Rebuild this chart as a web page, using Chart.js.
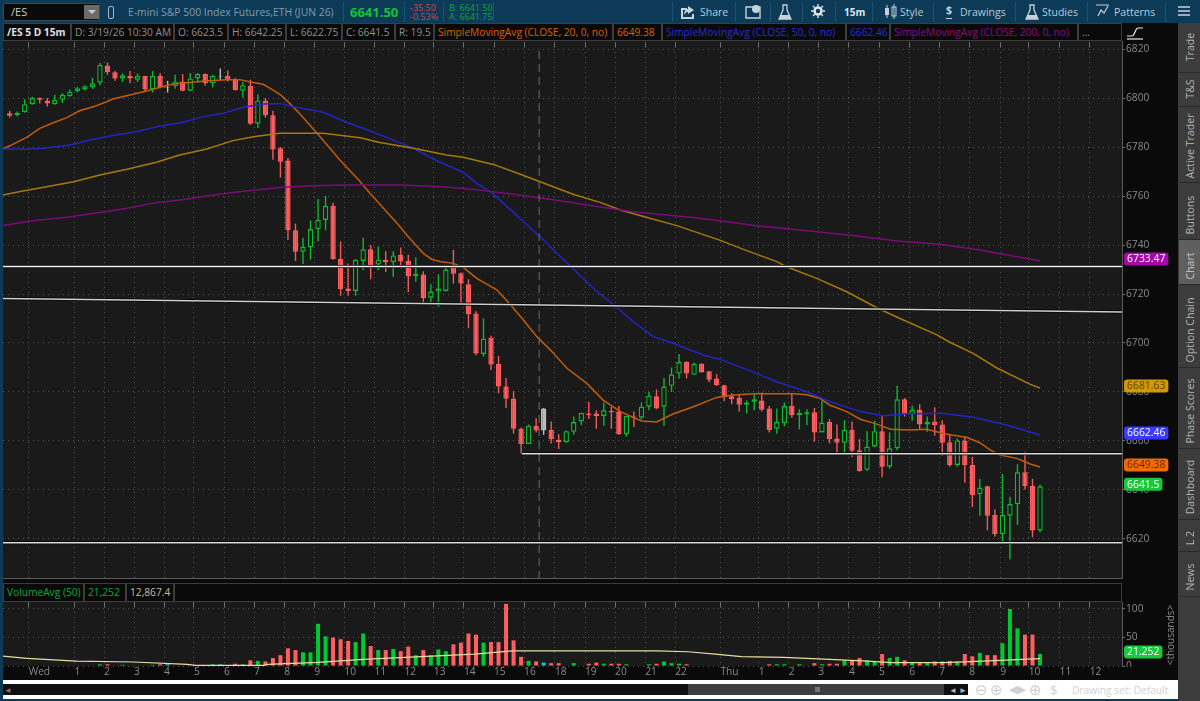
<!DOCTYPE html>
<html>
<head>
<meta charset="utf-8">
<title>/ES 5 D 15m</title>
<script src="https://cdn.jsdelivr.net/npm/chart.js@4"></script>
<style>
    html, body { margin: 0; padding: 0; }
    body { width: 1200px; height: 701px; background: #0d3a57; overflow: hidden; position: relative;
           font-family: "Open Sans", sans-serif; font-size: 10.2px; }
    .box { position: absolute; box-sizing: border-box; white-space: nowrap; }
    canvas { position: absolute; }

    /* --- Header --- */
    .tool { position: absolute; top: 3px; height: 18px; line-height: 18px; color: #b9cad6; font-size: 10.5px; white-space: nowrap; }
    .tool svg { position: absolute; top: 1px; left: 0; }
    .sep { position: absolute; top: 2px; width: 1px; height: 20px; background: #1d5272; }

    /* --- Info cells --- */
    .cell { position: absolute; height: 18px; line-height: 17px; background: #0a0a0a; border: 1px solid #3d3d3d;
            box-sizing: border-box; padding-left: 3px; color: #8e8e8e; white-space: nowrap; overflow: hidden; }

    /* --- Side tabs --- */
    .tab { position: absolute; left: 1179px; width: 21px; background: #3c3c3c; border-bottom: 1px solid #2a2a2a; box-sizing: border-box; }
    .tabtext { position: absolute; left: 1189.5px; width: 0; height: 0; }
    .tabtext span { position: absolute; transform: translate(-50%, -50%) rotate(-90deg); color: #b4b4b4; font-size: 10.6px; white-space: nowrap; }
</style>
</head>
<body>

<!-- header row -->
<div class="box" style="left:3px;top:3px;width:97px;height:18px;background:#0a0a0a;border:1px solid #3a4a55;border-radius:2px;color:#c9c9c9;font-size:11px;line-height:16px;padding-left:7px;">/ES</div>
<div class="box" style="left:84px;top:5px;width:15px;height:14px;background:#6b6b6b;"></div>
<div class="box" style="left:88px;top:10px;width:0;height:0;border-left:4px solid transparent;border-right:4px solid transparent;border-top:4px solid #ccc;"></div>
<div class="box" style="left:108px;top:6px;width:6px;height:13px;border:1px solid #a9b9c4;border-radius:2px;"></div>
<div class="box" style="left:128px;top:3px;line-height:18px;font-size:10.4px;color:#7f9cb1;">E-mini S&amp;P 500 Index Futures,ETH (JUN 26)</div>
<div class="box" style="left:350px;top:2px;line-height:20px;font-size:13px;font-weight:700;color:#10c43a;">6641.50</div>
<div class="box" style="left:410px;top:3px;line-height:9px;font-size:9px;color:#d8404a;">-35.50<br>-0.53%</div>
<div class="box" style="left:449px;top:3px;line-height:9px;font-size:9px;color:#12a53a;">B: 6641.50<br>A: 6641.75</div>
<div class="sep" style="left:343px;"></div>
<div class="sep" style="left:404px;"></div>
<div class="sep" style="left:443px;"></div>
<div class="sep" style="left:493px;"></div>
<div class="sep" style="left:672px;"></div>
<div class="sep" style="left:735px;"></div>
<div class="sep" style="left:770px;"></div>
<div class="sep" style="left:802px;"></div>
<div class="sep" style="left:835px;"></div>
<div class="sep" style="left:872px;"></div>
<div class="sep" style="left:933px;"></div>
<div class="sep" style="left:1015px;"></div>
<div class="sep" style="left:1087px;"></div>
<div class="sep" style="left:1165px;"></div>

<div class="tool" style="left:680px;width:48px;padding-left:20px;box-sizing:border-box;"><svg width="16" height="15"><path d="M1 4h6v2H3v7h9v-3h2v5H1zM8 2l6 4-6 4V8C6 8 5 9 4 11c0-4 2-6 4-6z" fill="#c4d2dc"/></svg>Share</div>
<div class="tool" style="left:745px;width:16px;"><svg width="16" height="15"><path d="M1 3h14v11H1z" fill="none" stroke="#c4d2dc" stroke-width="1.4"/><circle cx="11" cy="5" r="4" fill="#c4d2dc"/></svg></div>
<div class="tool" style="left:778px;width:14px;"><svg width="14" height="17"><path d="M5 1h4v5l4 9H1l4-9z" fill="none" stroke="#c4d2dc" stroke-width="1.3"/><path d="M3 11h8l2 4H1z" fill="#c4d2dc"/></svg></div>
<div class="tool" style="left:811px;width:14px;"><svg width="14" height="14"><circle cx="7" cy="7" r="3.5" fill="none" stroke="#dfe7ec" stroke-width="2.6"/><path d="M7 0v14M0 7h14M2 2l10 10M12 2L2 12" stroke="#dfe7ec" stroke-width="1.4" stroke-dasharray="2.2 9.6"/></svg></div>
<div class="tool" style="left:844px;font-weight:700;font-size:10px;color:#dfe7ec;">15m</div>
<div class="tool" style="left:884px;width:40px;padding-left:16px;box-sizing:border-box;"><svg width="14" height="15"><rect x="1" y="4" width="4" height="7" fill="#c4d2dc"/><rect x="8" y="3" width="4" height="9" fill="none" stroke="#c4d2dc"/><path d="M3 1v13M10 0v15" stroke="#c4d2dc"/></svg>Style</div>
<div class="tool" style="left:945px;width:62px;padding-left:15px;box-sizing:border-box;"><span style="position:absolute;left:1px;top:0;font-weight:700;color:#c4d2dc;border-bottom:1px solid #c4d2dc;line-height:15px;">$</span>Drawings</div>
<div class="tool" style="left:1025px;width:54px;padding-left:17px;box-sizing:border-box;"><svg width="14" height="17"><path d="M5 1h4v5l4 9H1l4-9z" fill="none" stroke="#c4d2dc" stroke-width="1.3"/><path d="M3 11h8l2 4H1z" fill="#c4d2dc"/></svg>Studies</div>
<div class="tool" style="left:1096px;width:62px;padding-left:18px;box-sizing:border-box;"><svg width="14" height="15"><path d="M0 1h13M2 12l3-6 3 3 4-7" fill="none" stroke="#c4d2dc" stroke-width="1.2"/></svg>Patterns</div>
<div class="tool" style="left:1178px;width:12px;"><svg width="12" height="14"><path d="M0 3h12M0 7h12M0 11h12" stroke="#c4d2dc" stroke-width="1.5"/></svg></div>

<!-- info row -->
<div class="box" style="left:3px;top:23px;width:1175px;height:18px;background:#0a0a0a;"></div>
<div class="cell" style="left:3px;top:23px;width:68px;color:#e0e0e0;font-weight:700;">/ES 5 D 15m</div>
<div class="cell" style="left:71px;top:23px;width:103px;">D: 3/19/26 10:30 AM</div>
<div class="cell" style="left:174px;top:23px;width:54px;">O: 6623.5</div>
<div class="cell" style="left:228px;top:23px;width:58px;">H: 6642.25</div>
<div class="cell" style="left:286px;top:23px;width:56px;">L: 6622.75</div>
<div class="cell" style="left:342px;top:23px;width:53px;">C: 6641.5</div>
<div class="cell" style="left:395px;top:23px;width:39px;">R: 19.5</div>
<div class="cell" style="left:434px;top:23px;width:179px;color:#d96200;">SimpleMovingAvg (CLOSE, 20, 0, no)</div>
<div class="cell" style="left:613px;top:23px;width:49px;color:#d96200;">6649.38</div>
<div class="cell" style="left:662px;top:23px;width:184px;color:#2a2ad8;">SimpleMovingAvg (CLOSE, 50, 0, no)</div>
<div class="cell" style="left:846px;top:23px;width:44px;color:#2a2ad8;">6662.46</div>
<div class="cell" style="left:890px;top:23px;width:188px;color:#880a88;">SimpleMovingAvg (CLOSE, 200, 0, no)</div>
<div class="cell" style="left:1078px;top:23px;width:44px;">...</div>
<svg class="box" style="left:1126px;top:25px;" width="20" height="15"><path d="M1 11h5c3 0 3-8 6-8h5" fill="none" stroke="#e8e8e8" stroke-width="1.2"/><path d="M1 14h16" stroke="#e8e8e8" stroke-width="1.2"/></svg>

<!-- panes -->
<div class="box" style="left:3px;top:41px;width:1175px;height:640px;background:#0a0a0a;"></div>
<div class="box" style="left:3px;top:41px;width:1119px;height:538px;background:#1a1a1a;"></div>
<div class="box" style="left:1122px;top:41px;width:1px;height:538px;background:#5a5a5a;"></div>
<div class="box" style="left:3px;top:578px;width:1120px;height:1px;background:#5a5a5a;"></div>

<canvas id="priceChart" width="1175" height="538" style="left:3px;top:41px;width:1175px;height:538px;"></canvas>

<div class="cell" style="left:3px;top:583px;width:81px;height:19px;color:#12a53a;">VolumeAvg (50)</div>
<div class="cell" style="left:84px;top:583px;width:42px;height:19px;color:#12a53a;">21,252</div>
<div class="cell" style="left:126px;top:583px;width:48px;height:19px;color:#cdbf90;">12,867.4</div>
<div class="box" style="left:174px;top:583px;width:948px;height:19px;border:1px solid #3d3d3d;background:#0a0a0a;"></div>

<div class="box" style="left:3px;top:602px;width:1119px;height:64px;background:#1a1a1a;"></div>
<div class="box" style="left:1122px;top:602px;width:1px;height:64px;background:#5a5a5a;"></div>
<canvas id="volumeChart" width="1175" height="78" style="left:3px;top:602px;width:1175px;height:78px;"></canvas>
<div class="box" style="left:1124px;top:667px;width:40px;height:13px;background:#0a0a0a;"></div>
<div class="box" style="left:1130px;top:628px;width:80px;height:14px;line-height:14px;text-align:center;color:#8e8e8e;transform:rotate(-90deg);font-size:10px;">&lt;thousands&gt;</div>

<!-- bottom strip -->
<div class="box" style="left:3px;top:680px;width:1175px;height:19px;background:#ffffff;"></div>
<div class="box" style="left:3px;top:684px;width:965px;height:11px;background:#101010;"></div>
<div class="box" style="left:688px;top:684px;width:256px;height:11px;background:#3e3e3e;"></div>
<div class="box" style="left:815px;top:687px;width:5px;height:5px;background:#777;"></div>
<div class="box" style="left:4px;top:685px;color:#777;font-size:8px;line-height:9px;">&#9668;</div>
<div class="box" style="left:949px;top:685px;color:#bbb;font-size:8px;line-height:9px;">&#9668;</div>
<div class="box" style="left:959px;top:685px;color:#bbb;font-size:8px;line-height:9px;">&#9658;</div>
<div class="box" style="left:975px;top:680px;line-height:20px;color:#cfcfcf;font-family:'DejaVu Sans';font-size:15px;">&#8854;</div>
<div class="box" style="left:990px;top:680px;line-height:20px;color:#cfcfcf;font-family:'DejaVu Sans';font-size:15px;">&#8853;</div>
<div class="box" style="left:1009px;top:680px;line-height:20px;color:#cfcfcf;font-family:'DejaVu Sans';font-size:11px;">&#9664;&#9654;</div>
<div class="box" style="left:1029px;top:680px;line-height:20px;color:#cfcfcf;font-family:'DejaVu Sans';font-size:15px;">&#8853;</div>
<div class="box" style="left:1050px;top:680px;line-height:20px;color:#cfcfcf;font-size:13px;">$</div>
<div class="box" style="left:1072px;top:680px;line-height:20px;color:#d2d2d2;font-size:10.2px;">Drawing set: Default</div>

<!-- side tabs -->
<div class="box" style="left:1178px;top:23px;width:22px;height:678px;background:#3c3c3c;"></div>
<div class="tab" style="top:23px;height:50px;"></div>
<div class="tab" style="top:73px;height:34px;"></div>
<div class="tab" style="top:107px;height:76px;"></div>
<div class="tab" style="top:183px;height:57px;"></div>
<div class="tab" style="top:240px;height:45px;background:#5e5e5e;"></div>
<div class="tab" style="top:285px;height:83px;"></div>
<div class="tab" style="top:368px;height:81px;"></div>
<div class="tab" style="top:449px;height:71px;"></div>
<div class="tab" style="top:520px;height:32px;"></div>
<div class="tab" style="top:552px;height:45px;"></div>
<div class="tabtext" style="top:47px;"><span>Trade</span></div>
<div class="tabtext" style="top:89px;"><span>T&amp;S</span></div>
<div class="tabtext" style="top:146px;"><span>Active Trader</span></div>
<div class="tabtext" style="top:215px;"><span>Buttons</span></div>
<div class="tabtext" style="top:266px;"><span style="color:#c8c8c8;">Chart</span></div>
<div class="tabtext" style="top:330px;"><span>Option Chain</span></div>
<div class="tabtext" style="top:411px;"><span>Phase Scores</span></div>
<div class="tabtext" style="top:487px;"><span>Dashboard</span></div>
<div class="tabtext" style="top:538px;"><span>L 2</span></div>
<div class="tabtext" style="top:577px;"><span>News</span></div>

<script>
// --- Candles (bar 0 is the first on the left) ---
const opens = [
    6793.75, 6793, 6794.25, 6797.5, 6800, 6799, 6797.5, 6799.25, 6800.75, 6802.75,
    6803.5, 6804.5, 6806.25, 6813.25, 6810.5, 6808, 6809, 6807.5, 6809, 6803.5,
    6809, 6804.5, 6804.75, 6806.75, 6803, 6808, 6809.75, 6806, 6809, 6809,
    6807.75, 6803, 6805, 6789.5, 6799, 6793, 6779.5, 6774.5, 6746, 6737.25,
    6739, 6746.5, 6750.25, 6756, 6734.25, 6722.25, 6721.25, 6733.5, 6738.25, 6732,
    6734, 6733, 6736, 6733.5, 6727.25, 6728, 6718.5, 6721, 6721.25, 6731,
    6728.5, 6724, 6712, 6695.5, 6702, 6691.5, 6682.25, 6677.25, 6665, 6658.75,
    6666.25, 6673.25, 6664.5, 6660.5, 6659.5, 6663.75, 6668, 6671.25, 6671.25, 6670.25,
    6672.25, 6672, 6662.75, 6670, 6669.5, 6674, 6678.25, 6674, 6682.5, 6687.5,
    6692.25, 6687, 6691.5, 6688.5, 6685.5, 6682.75, 6678.25, 6677.5, 6674.75, 6676,
    6676.5, 6673.25, 6665, 6667.25, 6674.25, 6670.5, 6671, 6671.75, 6663.5, 6667.75,
    6661, 6659.25, 6664.5, 6656.25, 6648.25, 6657.75, 6664, 6649.5, 6657, 6677,
    6671, 6672.75, 6666.75, 6668, 6666.75, 6659.5, 6650.25, 6660.25, 6650.25, 6638.25,
    6641.5, 6629.75, 6622, 6629.5, 6634.25, 6647.25, 6641.75, 6623.5
];
const highs = [
    6794.75, 6794.5, 6799.5, 6800.5, 6800.25, 6800, 6801.25, 6802, 6803.5, 6804.5,
    6805.25, 6808.25, 6814.25, 6814.5, 6811, 6810, 6811, 6810, 6809, 6811,
    6810.25, 6807, 6809.5, 6809.75, 6810.25, 6810.25, 6810, 6809.5, 6812, 6811.25,
    6808.25, 6806.5, 6807.5, 6801.5, 6800, 6794.75, 6780, 6775.5, 6748.75, 6743,
    6750, 6758.75, 6760, 6757.25, 6741.5, 6732.5, 6734.25, 6743, 6740, 6739.25,
    6737.5, 6737.5, 6739, 6736, 6735, 6729.25, 6724, 6728, 6731.5, 6738,
    6728.75, 6726, 6713, 6710, 6703, 6694.75, 6685.75, 6680.5, 6665.5, 6666.75,
    6669.25, 6673.5, 6668, 6662.75, 6664.25, 6670, 6671.5, 6676, 6672.5, 6675.75,
    6674, 6674.25, 6670.25, 6672, 6675.75, 6680, 6681, 6685.75, 6690, 6695.5,
    6692.5, 6692, 6691.75, 6688.5, 6687.25, 6683, 6679.5, 6679, 6676.5, 6679,
    6679.75, 6674.25, 6673.25, 6675.75, 6679.25, 6673, 6673, 6673.5, 6676.5, 6669,
    6666.75, 6668.5, 6668, 6660.75, 6664, 6668.25, 6670.25, 6663.5, 6682.5, 6677.5,
    6674.5, 6675, 6670, 6673.75, 6668.5, 6662.5, 6661, 6662, 6653.5, 6644.5,
    6641.75, 6632, 6646.5, 6637.25, 6650.5, 6655.75, 6644.5, 6642.25
];
const lows = [
    6792, 6792.5, 6794, 6797.25, 6797.75, 6796.5, 6797.25, 6798, 6800.5, 6802.25,
    6803, 6803.75, 6805.25, 6809.5, 6807, 6806.5, 6806, 6806.5, 6802.75, 6802.25,
    6804, 6802.25, 6803.75, 6802.75, 6802.75, 6806.25, 6805, 6804.25, 6807.5, 6806.75,
    6803, 6800.25, 6789, 6787.75, 6792, 6774.75, 6767.5, 6742, 6733.5, 6732.25,
    6734, 6741.5, 6746, 6734, 6719.25, 6719.25, 6719.25, 6729.75, 6726, 6729.75,
    6729, 6727, 6730.5, 6720.75, 6725, 6716.5, 6716.25, 6714.75, 6721, 6724.25,
    6716, 6706, 6695, 6694.5, 6689, 6679.5, 6673.5, 6663, 6655, 6658.75,
    6663.5, 6662.5, 6659, 6656.75, 6659.25, 6662.5, 6666.5, 6669, 6665, 6666.25,
    6665, 6662.5, 6661.75, 6665.75, 6668.75, 6672.5, 6673, 6666.25, 6680, 6685.5,
    6685.5, 6687, 6688, 6684, 6682.5, 6676.25, 6675, 6672, 6671.25, 6672.5,
    6672, 6663.5, 6663, 6666, 6669.5, 6664.75, 6666.5, 6659.75, 6663.5, 6659,
    6654.75, 6655, 6653.5, 6647.5, 6647.75, 6657.5, 6645.25, 6648.75, 6656.25, 6670,
    6668.25, 6664.5, 6663.75, 6662.25, 6654, 6649.5, 6649.5, 6643, 6633, 6629.5,
    6623.5, 6621, 6618.5, 6611.75, 6625.75, 6640.25, 6620.75, 6622.75
];
const closes = [
    6792.75, 6794, 6797.5, 6800, 6799.25, 6797.75, 6799.25, 6801.25, 6802.5, 6804,
    6804.75, 6806, 6813.5, 6810.5, 6808, 6809.25, 6808, 6809, 6803.5, 6809,
    6804.5, 6804.25, 6806.75, 6803, 6808, 6809.75, 6806, 6809, 6808.75, 6807.5,
    6803.25, 6805.25, 6789.5, 6799, 6793, 6779, 6774, 6746, 6737.25, 6739.25,
    6746.5, 6750.25, 6756, 6734.25, 6722, 6721.25, 6734, 6738.25, 6731.5, 6734,
    6733, 6735.75, 6733.25, 6727.25, 6728.25, 6718.25, 6721, 6722.25, 6730, 6728.25,
    6724.25, 6711.75, 6695.75, 6701.75, 6691.25, 6682.25, 6677.25, 6665, 6658.75, 6666.25,
    6664.25, 6664.25, 6660.75, 6659.5, 6664, 6667.75, 6671.5, 6670.5, 6670.25, 6672.5,
    6671.75, 6662.75, 6670.25, 6669.5, 6674, 6678.5, 6673.25, 6682.25, 6687.25, 6692.25,
    6687.5, 6691.5, 6688, 6685, 6682.75, 6678, 6677, 6674.75, 6675.75, 6677,
    6672.75, 6664.5, 6667.75, 6674.25, 6670.5, 6671.5, 6671.75, 6663.5, 6667.5, 6660.75,
    6659.25, 6664.5, 6656, 6647.75, 6657.75, 6664, 6649.5, 6657, 6677, 6671,
    6672.75, 6666.75, 6667.75, 6666.5, 6659.25, 6650.25, 6660.25, 6650.25, 6638, 6641,
    6629.5, 6622, 6629.75, 6634.25, 6647.25, 6641.5, 6623.5, 6641.5
];
const grayBars = [21, 28, 71];

// Volume in thousands, one per bar (0 where no bar shows above the pane floor)
const volumes = [
    0, 0, 0, 0, 0, 0, 0, 0, 0, 0, 0, 0, 3, 3, 0, 2, 0, 0, 0, 2,
    3, 3, 0, 0, 0, 0, 0, 3, 3, 0, 4, 3, 10, 9, 8, 14, 19, 31, 28, 24,
    24, 74, 52, 50, 47, 44, 42, 57, 35, 28, 28, 30, 26, 34, 19, 28, 19, 29, 26, 38,
    41, 57, 55, 41, 42, 42, 109, 45, 16, 9, 8, 6, 5, 5, 0, 5, 0, 4, 6, 4,
    4, 4, 3, 0, 0, 3, 4, 8, 5, 4, 3, 0, 0, 0, 0, 0, 0, 0, 0, 0,
    0, 3, 3, 3, 0, 3, 0, 5, 3, 4, 4, 10, 10, 14, 10, 7, 21, 14, 16, 10,
    7, 5, 5, 8, 8, 9, 8, 21, 17, 23, 19, 19, 40, 100, 66, 55, 55, 21.25
];

// --- Averages: bar position and value of each point ---
const sma20Bars = [-0.9, 0.4, 2.3, 4, 5.8, 7.6, 9.3, 11.1, 12.9, 13.7, 16.4, 18.3, 20, 21.7, 23.6, 25.3, 27, 28.9, 30.6, 32, 33.7, 35, 36, 37.3, 38.6, 41.3, 43.9, 46.4, 47.9, 49.7, 51.5, 53.2, 55, 56.1, 57.2, 59, 60.3, 62.1, 64.8, 66.5, 68.3, 70.1, 71.9, 74.1, 76.7, 78.9, 81.2, 84, 86, 88.2, 90.9, 94, 96.2, 98.9, 101.5, 104.2, 106, 107.8, 109, 111.3, 113.1, 115.3, 117.1, 119.7, 121.9, 124.2, 125.5, 127.3, 129, 130.4, 131.7, 133.9, 135.7, 137];
const sma20Vals = [6779.2, 6781.1, 6784, 6787.6, 6789.9, 6792, 6794.8, 6796.4, 6798.5, 6799.6, 6801.5, 6803, 6804.4, 6805.7, 6806.2, 6806.7, 6807.1, 6807.5, 6807.5, 6806.5, 6805.6, 6803.3, 6801.3, 6797.6, 6793.5, 6784.1, 6774.7, 6766.5, 6761.1, 6755, 6748.9, 6742.7, 6736.6, 6734.2, 6733.3, 6732.5, 6730.9, 6726.4, 6721.6, 6715.9, 6709.4, 6702.6, 6697.1, 6689.7, 6683.6, 6676.7, 6672, 6668.2, 6667.8, 6671, 6674, 6677.8, 6678.8, 6679.3, 6679.3, 6679.3, 6678.9, 6677.3, 6674.7, 6672, 6668.9, 6666.9, 6664.8, 6664.5, 6664.8, 6663.1, 6662.3, 6661.4, 6659.3, 6656.3, 6654.3, 6652.9, 6650.6, 6649.38];

const sma50Bars = [-0.9, 2.3, 4.5, 8, 10.7, 13.3, 16.9, 19.5, 23.1, 25.7, 28.4, 31.1, 33.7, 35.9, 37.7, 41.7, 44.8, 48.4, 51.5, 53.7, 56.8, 60.3, 62.1, 63.9, 67, 70.5, 74.5, 78.1, 80.5, 82.9, 85.6, 88.2, 92.2, 94.5, 99.3, 102, 106, 109.1, 113.1, 116.2, 118.8, 124.1, 128.1, 132.6, 137];
const sma50Vals = [6779.2, 6779.1, 6779.5, 6780.8, 6782.9, 6784.5, 6786.2, 6788.3, 6790.1, 6792.4, 6793.8, 6796.2, 6797.6, 6797.8, 6796.4, 6794.2, 6790.1, 6786, 6782.2, 6779.5, 6774.4, 6769.7, 6765.2, 6761.8, 6753.3, 6743.4, 6731.5, 6720.9, 6715.2, 6708.7, 6702.6, 6699.9, 6695.1, 6693.3, 6687.6, 6684.2, 6680.1, 6676, 6672, 6670.3, 6671, 6671.3, 6669.7, 6666.5, 6662.46];

const sma100Bars = [-0.9, 1.4, 4.9, 8.5, 12, 15.6, 19.5, 22.6, 26.2, 29.7, 32.4, 35.9, 41.7, 46.6, 49.2, 53.7, 58.1, 60.3, 64.3, 67.9, 71.4, 74.9, 78.5, 81.2, 85.1, 88.7, 94.4, 98, 102, 103.3, 107.3, 111.3, 115.3, 118, 123.3, 125, 128.1, 131.2, 135.7, 137];
const sma100Vals = [6760.4, 6761.8, 6763.8, 6765.8, 6768.6, 6770.9, 6773.8, 6776.7, 6779.2, 6782.6, 6784.2, 6785.6, 6785.6, 6783.8, 6781.8, 6779.5, 6776.7, 6775.8, 6772.9, 6768.9, 6764.8, 6760.7, 6757.4, 6754.3, 6750.9, 6747.9, 6742, 6737.7, 6733.2, 6731.1, 6726.4, 6720.9, 6714.4, 6710.5, 6703.3, 6700.3, 6695.8, 6689.9, 6683.1, 6681.63];

const sma200Bars = [-0.9, 2.7, 7.6, 12, 15.6, 19.5, 23.5, 28, 32, 35.9, 40.4, 44.8, 51.9, 58.1, 62.5, 67, 72.3, 78.5, 82.9, 90.5, 94.4, 99.3, 106.4, 112.6, 118, 123.7, 129, 137];
const sma200Vals = [6747.9, 6749.8, 6751.3, 6753.3, 6755, 6757.3, 6758.7, 6760.8, 6762.2, 6763.5, 6764.2, 6764.5, 6764.5, 6763.7, 6762.4, 6760.7, 6758.5, 6755.5, 6753.6, 6751.3, 6749.9, 6747.9, 6745.7, 6743.7, 6741.6, 6740.3, 6738, 6733.47];

const volAvgBars = [-0.9, 2.3, 8.9, 16.5, 23.6, 24.7, 33.8, 34.3, 41, 47, 54.7, 61.8, 66.9, 78.5, 86.1, 90.2, 93.8, 97.3, 102.9, 109, 114.1, 117.2, 124.3, 129.4, 137];
const volAvgVals = [17.4, 13.4, 8.7, 7, 2.9, 1, 1, 2.9, 6.4, 11.6, 16.3, 20.9, 26.7, 26.7, 26.7, 25, 20.9, 16.3, 15.1, 11.6, 8.7, 5.8, 5.8, 8.7, 12.87];

// Hand-drawn levels: [start bar, start price, end bar, end price]
const drawnLevels = [
    [-0.89, 6731.2, 147.9, 6731.2],
    [-0.89, 6718.2, 147.9, 6712.7],
    [68.1, 6654.8, 147.9, 6654.8],
    [-0.89, 6618.5, 147.9, 6618.5]
];
const drawnColors = ['#f4f4f4', '#cfcfcf', '#dcdcdc', '#dcdcdc'];
const cursorBar = 70.4;

// Time axis
const hourBars = [2.53, 8.63, 12.54, 16.53, 20.52, 24.5, 28.5, 32.5, 36.5, 40.5, 44.5, 48.5, 52.5, 56.4, 60.4, 64.4, 68.4, 72.5, 76.5, 80.5, 84.5, 88.5, 94.5, 99.6, 103.6, 107.5, 111.6, 115.6, 119.6, 123.6, 127.6, 131.7, 135.5, 139.6, 143.6];
const hourLabels = ['Wed', '1', '2', '3', '4', '5', '6', '7', '8', '9', '10', '11', '12', '13', '14', '15', '16', '18', '19', '20', '21', '22', 'Thu', '1', '2', '3', '4', '5', '6', '7', '8', '9', '10', '11', '12'];

// Right-hand value tags
const priceTagVals = [6733.47, 6681.63, 6662.46, 6649.38, 6641.5];
const priceTagText = ['6733.47', '6681.63', '6662.46', '6649.38', '6641.5'];
const priceTagFill = ['#a50aa5', '#d09a00', '#3a3aff', '#f56a00', '#16c83a'];
const priceTagInk = ['#ffffff', '#5a4200', '#ffffff', '#5c2800', '#ffffff'];
const volTagVals = [21.252];
const volTagText = ['21.252'];
const volTagFill = ['#16c83a'];
const volTagInk = ['#ffffff'];

// --- Colours ---
const RED = '#ff5f5f';
const GREEN = '#0cba2c';
const GRAY = '#bdbdbd';
const CYAN = '#19c4d8';
const PANE_BG = '#1a1a1a';
const GRID = '#575757';
const LABEL = '#8a8a8a';

Chart.defaults.font.family = '"Open Sans", sans-serif';
Chart.defaults.animation = false;

function barColor(i, up, down, neutral) {
    if (grayBars.includes(i)) return neutral;
    return closes[i] >= opens[i] ? up : down;
}

function linePoints(bars, vals) {
    return bars.map((b, i) => ({ x: b, y: vals[i] }));
}

function lineSet(bars, vals, color, width, order) {
    return {
        type: 'line',
        data: linePoints(bars, vals),
        borderColor: color,
        borderWidth: width,
        pointRadius: 0,
        tension: 0,
        order: order
    };
}

// Draws the coloured tags over the right axis
function tagPlugin(vals, texts, fills, inks) {
    return {
        id: 'valueTags',
        afterDraw(chart) {
            const ctx = chart.ctx;
            const y = chart.scales.y;
            ctx.save();
            ctx.font = '10.4px "Open Sans", sans-serif';
            ctx.textBaseline = 'middle';
            vals.forEach((v, i) => {
                const py = y.getPixelForValue(v) - 2;
                const w = ctx.measureText(texts[i]).width + 6;
                const px = y.left + 2;
                ctx.fillStyle = fills[i];
                ctx.beginPath();
                ctx.roundRect(px, py - 6.5, w, 13, 3);
                ctx.fill();
                ctx.fillStyle = inks[i];
                ctx.fillText(texts[i], px + 3, py + 0.5);
            });
            ctx.restore();
        }
    };
}

function timeAxis(position, withLabels) {
    return {
        type: 'linear',
        position: position,
        min: -0.89,
        max: 147.9,
        offset: false,
        afterBuildTicks(scale) {
            scale.ticks = hourBars.map(b => ({ value: b }));
        },
        afterFit(scale) {
            scale.height = withLabels ? 14 : 6;
            scale.paddingLeft = 0;
            scale.paddingRight = 0;
        },
        grid: {
            offset: false,
            color: withLabels ? 'transparent' : GRID,
            tickColor: '#6a6a6a',
            tickLength: 5,
            drawTicks: !withLabels,
            lineWidth: 1
        },
        border: { display: false, dash: [1, 4] },
        ticks: {
            display: withLabels,
            autoSkip: false,
            maxRotation: 0,
            minRotation: 0,
            align: 'start',
            padding: 0,
            color: LABEL,
            font: { size: 10.2 },
            callback: (v, i) => hourLabels[i]
        }
    };
}

function valueAxis(min, max, step) {
    return {
        position: 'right',
        min: min,
        max: max,
        afterFit(scale) {
            scale.width = 56;
            scale.paddingTop = 0;
            scale.paddingBottom = 0;
        },
        grid: { color: GRID, tickColor: '#6a6a6a', tickLength: 3, lineWidth: 1 },
        border: { display: false, dash: [1, 4] },
        ticks: {
            stepSize: step,
            includeBounds: false,
            padding: 1,
            color: LABEL,
            font: { size: 10.2 },
            callback: v => String(v)
        }
    };
}

// --- Price pane ---
function setupPriceChart() {
    const idx = opens.map((_, i) => i);
    const datasets = [
        {
            data: idx.map(i => ({ x: i, y: [lows[i], highs[i]] })),
            backgroundColor: idx.map(i => barColor(i, GREEN, '#f05a5a', GRAY)),
            barThickness: 1.4,
            order: 4
        },
        {
            data: idx.map(i => ({ x: i, y: [Math.min(opens[i], closes[i]), Math.max(opens[i], closes[i])] })),
            backgroundColor: idx.map(i => barColor(i, PANE_BG, RED, GRAY)),
            borderColor: idx.map(i => barColor(i, GREEN, RED, GRAY)),
            borderWidth: 1.4,
            borderSkipped: false,
            barThickness: 5.4,
            order: 3
        },
        lineSet(sma200Bars, sma200Vals, '#7a0c7a', 1.5, 2),
        lineSet(sma100Bars, sma100Vals, '#a47a0c', 1.5, 2),
        lineSet(sma50Bars, sma50Vals, '#2424c4', 1.5, 2),
        lineSet(sma20Bars, sma20Vals, '#c25c0c', 1.5, 2),
        Object.assign(lineSet([cursorBar, cursorBar], [6603.67, 6820.82], '#6c6c6c', 1, 1), { borderDash: [8, 5] })
    ];
    drawnLevels.forEach((l, i) => {
        datasets.push(lineSet([l[0], l[2]], [l[1], l[3]], '#050505', 3, 1));
        datasets.push(lineSet([l[0], l[2]], [l[1], l[3]], drawnColors[i], 1.5, 0));
    });

    new Chart(document.getElementById('priceChart'), {
        type: 'bar',
        data: { datasets: datasets },
        options: {
            responsive: false,
            devicePixelRatio: 1,
            layout: { padding: 0 },
            plugins: { legend: { display: false }, tooltip: { enabled: false } },
            datasets: { bar: { grouped: false, inflateAmount: 0 } },
            scales: {
                x: timeAxis('top', false),
                y: valueAxis(6603.67, 6820.82, 20)
            }
        },
        plugins: [tagPlugin(priceTagVals, priceTagText, priceTagFill, priceTagInk)]
    });
}

// --- Volume pane ---
function setupVolumeChart() {
    const idx = volumes.map((_, i) => i);
    const topAxis = timeAxis('top', false);
    const fitTop = topAxis.afterFit;
    topAxis.afterFit = scale => { fitTop(scale); scale.height = 5; };

    new Chart(document.getElementById('volumeChart'), {
        type: 'bar',
        data: {
            datasets: [
                {
                    data: idx.map(i => ({ x: i, y: volumes[i] })),
                    backgroundColor: idx.map(i => barColor(i, '#00c832', RED, CYAN)),
                    barThickness: 4,
                    clip: false,
                    order: 2
                },
                lineSet(volAvgBars, volAvgVals, '#e6dca0', 1.2, 1)
            ]
        },
        options: {
            responsive: false,
            devicePixelRatio: 1,
            layout: { padding: 0 },
            plugins: { legend: { display: false }, tooltip: { enabled: false } },
            datasets: { bar: { grouped: false, inflateAmount: 0 } },
            scales: {
                x: timeAxis('bottom', true),
                xTop: topAxis,
                y: valueAxis(0, 103.5, 50)
            }
        },
        plugins: [tagPlugin(volTagVals, volTagText, volTagFill, volTagInk)]
    });
}

setupPriceChart();
setupVolumeChart();
</script>
</body>
</html>
